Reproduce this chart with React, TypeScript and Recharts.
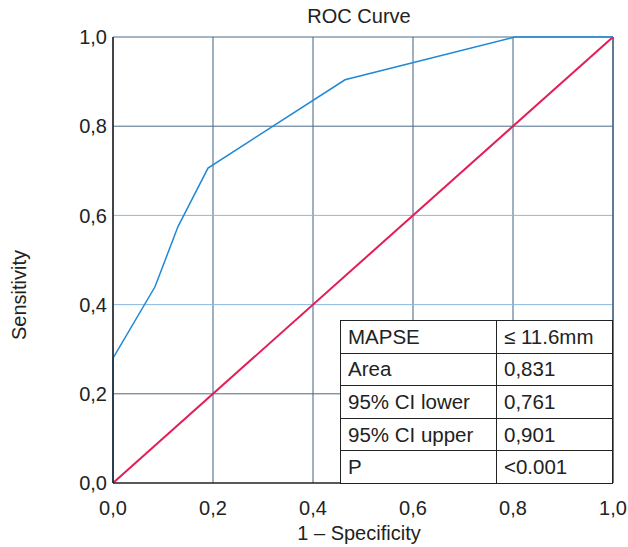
import { CartesianGrid, Line, LineChart, ReferenceLine, XAxis, YAxis } from 'recharts';

const rocX = [0, 0, 0.084, 0.13, 0.19, 0.464, 0.804, 1];
const rocY = [0, 0.28, 0.44, 0.575, 0.706, 0.904, 1, 1];
const diagX = [0, 1];
const diagY = [0, 1];
const ticks = [0, 0.2, 0.4, 0.6, 0.8, 1];
const darkRows = [0.2, 0.8, 1];
const lightRows = [0.4, 0.6];

const statLabels = ['MAPSE', 'Area', '95% CI lower', '95% CI upper', 'P'];
const statValues = ['≤ 11.6mm', '0,831', '0,761', '0,901', '<0.001'];

const rocData = rocX.map((x, i) => ({ x, y: rocY[i] }));
const diagData = diagX.map((x, i) => ({ x, y: diagY[i] }));

const fmt = (v: number) => v.toFixed(1).replace('.', ',');
const font = 'Liberation Sans, Arial, sans-serif';

export default function App() {
  return (
    <div style={{ position: 'absolute', left: 0, top: 0, width: 628, height: 547, background: '#fff', fontFamily: font }}>
      <LineChart width={628} height={547} margin={{ top: 37, right: 15, bottom: 34, left: 53 }}>
        <CartesianGrid horizontal={false} stroke="#3f6080" strokeWidth={1} />
        {darkRows.map((v) => (
          <ReferenceLine key={v} y={v} stroke="#4a6a88" strokeWidth={1} />
        ))}
        {lightRows.map((v) => (
          <ReferenceLine key={v} y={v} stroke="#8ab8e0" strokeWidth={1} />
        ))}
        <ReferenceLine x={1} stroke="#4a6a88" strokeWidth={1.5} />
        <XAxis
          dataKey="x"
          type="number"
          domain={[0, 1]}
          ticks={ticks}
          tickFormatter={fmt}
          tickLine={false}
          tickMargin={12}
          height={30}
          stroke="#222"
          strokeWidth={1.5}
          tick={{ fill: '#222', fontSize: 20, fontFamily: font }}
          allowDuplicatedCategory={false}
        />
        <YAxis
          dataKey="y"
          type="number"
          domain={[0, 1]}
          ticks={ticks}
          tickFormatter={fmt}
          tickLine={false}
          tickMargin={0}
          width={60}
          stroke="#222"
          strokeWidth={1.5}
          tick={{ fill: '#222', fontSize: 20, fontFamily: font }}
        />
        <Line data={diagData} dataKey="y" stroke="#e21e55" strokeWidth={2} dot={false} isAnimationActive={false} />
        <Line data={rocData} dataKey="y" stroke="#1f88d6" strokeWidth={1.5} dot={false} isAnimationActive={false} />
      </LineChart>

      <div style={{ position: 'absolute', left: 259, top: 5, width: 200, textAlign: 'center', fontSize: 20, color: '#222' }}>
        ROC Curve
      </div>
      <div style={{ position: 'absolute', left: 209, top: 522, width: 300, textAlign: 'center', fontSize: 20, color: '#222' }}>
        1 – Specificity
      </div>
      <div
        style={{
          position: 'absolute',
          left: 19,
          top: 295,
          transform: 'translate(-50%, -50%) rotate(-90deg)',
          fontSize: 20,
          color: '#222',
          whiteSpace: 'nowrap',
        }}
      >
        Sensitivity
      </div>

      <table
        style={{
          position: 'absolute',
          left: 340,
          top: 320,
          width: 273,
          height: 164,
          borderCollapse: 'collapse',
          background: '#fff',
          fontSize: 20.5,
          color: '#222',
          fontFamily: font,
        }}
      >
        <tbody>
          {statLabels.map((label, i) => (
            <tr key={label}>
              <td style={{ border: '1.5px solid #222', padding: '0 7px', width: 141, height: 31 }}>{label}</td>
              <td style={{ border: '1.5px solid #222', padding: '0 7px' }}>{statValues[i]}</td>
            </tr>
          ))}
        </tbody>
      </table>
    </div>
  );
}
